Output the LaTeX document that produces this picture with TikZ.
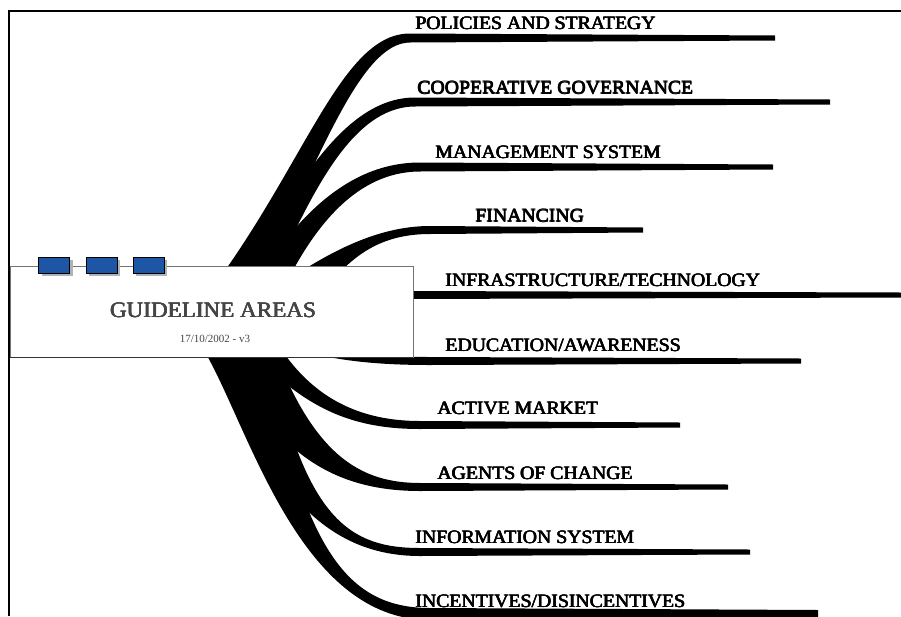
\documentclass[tikz,border=0pt]{standalone}
\usepackage{fontspec}
\setmainfont{Liberation Serif}
\newfontfamily\areafont{Liberation Serif}[FakeStretch=1.05]
\usetikzlibrary{shadows}
\definecolor{tabblue}{HTML}{1C56A5}
\definecolor{titlegray}{HTML}{454545}
% heavy type: the same words set four times, a hair apart
\newcommand{\heavy}[1]{\rlap{#1}\rlap{\kern.55pt#1}\rlap{\raisebox{.35pt}{#1}}\kern.55pt\raisebox{.35pt}{#1}}
\begin{document}
\begin{tikzpicture}[x=1pt,y=-1pt,
        limb/.style={fill=black},
        area/.style={font=\areafont\fontsize{18.8}{20}\selectfont, inner sep=0pt, anchor=base west},
        tab/.style={draw=black, line width=0.7pt, fill=tabblue, minimum width=31pt, minimum height=16pt,
          inner sep=0pt, drop shadow={shadow xshift=3pt, shadow yshift=-3pt, fill=black!30, opacity=1}}]
    \clip (0,0) rectangle (901,616);
    % page frame
    \draw[line width=2pt] (8.5,616) -- (8.5,11) -- (901,11);

    % upper limbs
    \fill[limb] (224,272) .. controls (310,150) and (345,33.5) .. (410,33.5) -- (775,35.5) -- (775,40.5)
      -- (410,42.5) .. controls (360,42.5) and (320,160) .. (262,272) -- cycle;
    \fill[limb] (245,272) .. controls (290,200) and (340,97.5) .. (415,97.5) -- (830,99.5) -- (830,104.5)
      -- (415,106.5) .. controls (350,106.5) and (310,200) .. (275,272) -- cycle;
    \fill[limb] (262,272) .. controls (300,215) and (350,162.5) .. (420,162.5) -- (773,164.5) -- (773,169.5)
      -- (420,171.5) .. controls (355,171.5) and (315,230) .. (292,272) -- cycle;
    \fill[limb] (300,272) .. controls (335,250) and (380,226) .. (430,226) -- (643,227.5) -- (643,232.5)
      -- (430,234) .. controls (385,234) and (360,252) .. (340,272) -- cycle;
    \fill[limb] (405,291) -- (901,292.5) -- (901,297.5) -- (405,299) -- cycle;

    % lower limbs
    \fill[limb] (300,350) .. controls (340,362) and (385,365) .. (430,365) -- (801,363.5) -- (801,358.5)
      -- (430,357) .. controls (390,357) and (350,354) .. (330,350) -- cycle;
    \fill[limb] (250,352) .. controls (300,400) and (340,429) .. (420,429) -- (680,427.5) -- (680,422.5)
      -- (420,421) .. controls (350,421) and (310,390) .. (283,352) -- cycle;
    \fill[limb] (222,352) .. controls (270,440) and (320,491) .. (420,491) -- (728,489.5) -- (728,484.5)
      -- (420,483) .. controls (360,483) and (315,455) .. (275,352) -- cycle;
    \fill[limb] (215,352) .. controls (265,480) and (320,556) .. (420,556) -- (750,554.5) -- (750,549.5)
      -- (420,548) .. controls (350,548) and (305,520) .. (270,352) -- cycle;
    \fill[limb] (205,352) .. controls (250,430) and (300,620) .. (430,620) -- (818,618) -- (818,610)
      -- (430,608) .. controls (355,608) and (315,560) .. (280,420) -- (262,352) -- cycle;

    % centre box
    \node[draw=black!55, fill=white, line width=0.8pt, minimum width=403pt, minimum height=91pt,
      inner sep=0pt] (hub) at (211.5,311.5) {};
    \draw[black!80, line width=0.8pt] (hub.south west) -- (hub.south east);
    \node[font=\areafont\fontsize{22}{24}\selectfont, text=titlegray] (title) at (213,310) {\heavy{GUIDELINE AREAS}};
    \node[font=\fontsize{11}{12}\selectfont, text=titlegray] (date) at (215,339) {17/10/2002 - v3};
    \node[tab] (tab1) at (54,265) {};
    \node[tab] (tab2) at (101.5,265) {};
    \node[tab] (tab3) at (148.5,265) {};

    % area labels
    \node[area] (policies)  at (415,29.5)  {\heavy{POLICIES AND STRATEGY}};
    \node[area] (coop)      at (417,94)    {\heavy{COOPERATIVE GOVERNANCE}};
    \node[area] (mgmt)      at (435,158.5) {\heavy{MANAGEMENT SYSTEM}};
    \node[area] (finance)   at (475,222)   {\heavy{FINANCING}};
    \node[area] (infra)     at (445,286.5) {\heavy{INFRASTRUCTURE/TECHNOLOGY}};
    \node[area] (edu)       at (445,351.5) {\heavy{EDUCATION/AWARENESS}};
    \node[area] (market)    at (437,414.5) {\heavy{ACTIVE MARKET}};
    \node[area] (agents)    at (437,479.5) {\heavy{AGENTS OF CHANGE}};
    \node[area] (info)      at (415,543.5) {\heavy{INFORMATION SYSTEM}};
    \node[area] (incent)    at (415,607.5) {\heavy{INCENTIVES/DISINCENTIVES}};
\end{tikzpicture}
\end{document}
